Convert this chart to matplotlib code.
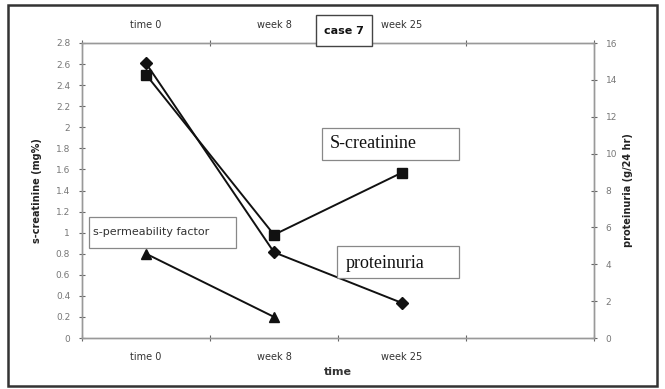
import matplotlib
matplotlib.use("Agg")
import matplotlib.pyplot as plt
from matplotlib.patches import Rectangle

categories = ["time 0", "week 8", "week 25"]
s_creatinine = [2.5, 0.98, 1.57]          # mg%, left axis
proteinuria = [14.9, 4.65, 1.9]           # g/24 hr, right axis
permeability = [0.8, 0.2]                 # left axis
left_ticks = [0, 0.2, 0.4, 0.6, 0.8, 1, 1.2, 1.4, 1.6, 1.8, 2, 2.2, 2.4, 2.6, 2.8]
right_ticks = [0, 2, 4, 6, 8, 10, 12, 14, 16]

fig = plt.figure(figsize=(6.65, 3.89), dpi=100)
W, H = 665, 389
ax = fig.add_axes([82 / W, 1 - 338 / H, (594 - 82) / W, (338 - 43) / H])
ax2 = ax.twinx()

xpos = [i + 0.5 for i in range(len(categories))]
lc = "#111111"
ax.plot(xpos, s_creatinine, color=lc, lw=1.4, marker="s", ms=7.5, mfc=lc, mec=lc, zorder=3)
ax.plot(xpos[:len(permeability)], permeability, color=lc, lw=1.4, marker="^", ms=7.5,
        mfc=lc, mec=lc, zorder=3)
ax2.plot(xpos, proteinuria, color=lc, lw=1.4, marker="D", ms=6.5, mfc=lc, mec=lc, zorder=3)

ax.set_xlim(0, 4)
ax.set_ylim(0, 2.8)
ax2.set_ylim(0, 16)

gray = "#777777"
for a in (ax, ax2):
    for s in a.spines.values():
        s.set_color("#999999")
        s.set_linewidth(1.0)

ax.set_yticks(left_ticks)
ax.set_yticklabels([("%g" % v) for v in left_ticks], fontsize=6.5, color=gray)
ax2.set_yticks(right_ticks)
ax2.set_yticklabels([str(v) for v in right_ticks], fontsize=6.5, color=gray)
ax.tick_params(axis="y", direction="inout", length=5, width=0.8, color="#666666", pad=6)
ax2.tick_params(axis="y", direction="inout", length=5, width=0.8, color="#666666", pad=6)

ax.set_xticks([0, 1, 2, 3, 4])
ax.set_xticklabels([])
ax.set_xticks(xpos, minor=True)
ax.set_xticklabels(categories, minor=True, fontsize=7, color="#333333")
ax.tick_params(axis="x", which="major", direction="inout", length=5, width=0.8, color="#666666",
               top=True)
ax.tick_params(axis="x", which="minor", length=0, pad=10)

# top secondary labels
for x, lab in zip(xpos, categories):
    ax.text(x, 1.0 + 18 / 295, lab, transform=ax.get_xaxis_transform(), ha="center",
            va="center", fontsize=7, color="#333333")

ax.set_xlabel("time", fontsize=8, fontweight="bold", color="#333333", labelpad=4)
ax.set_ylabel("s-creatinine (mg%)", fontsize=7, fontweight="bold", color="#222222", labelpad=10)
ax2.set_ylabel("proteinuria (g/24 hr)", fontsize=7, fontweight="bold", color="#222222",
               rotation=90, labelpad=4)


def fbox(x0, y0, x1, y1, ec, lw):
    fig.add_artist(Rectangle((x0 / W, 1 - y1 / H), (x1 - x0) / W, (y1 - y0) / H,
                             transform=fig.transFigure, fc="white", ec=ec, lw=lw, zorder=5))


# case 7 box
fbox(316, 15, 372, 46, "#444444", 1.0)
fig.text(344 / W, 1 - 31 / H, "case 7", ha="center", va="center", fontsize=8,
         fontweight="bold", color="#111111", zorder=6)

# annotation boxes
fbox(322, 128, 459, 160, "#888888", 0.9)
fig.text(330 / W, 1 - 144 / H, "S-creatinine", ha="left", va="center", fontsize=13,
         family="Liberation Serif", color="#111111", zorder=6)
fbox(337, 246, 459, 278, "#888888", 0.9)
fig.text(346 / W, 1 - 263 / H, "proteinuria", ha="left", va="center", fontsize=13,
         family="Liberation Serif", color="#111111", zorder=6)
fbox(89, 217, 236, 248, "#888888", 0.9)
fig.text(93 / W, 1 - 232 / H, "s-permeability factor", ha="left", va="center", fontsize=8,
         color="#333333", zorder=6)

# outer frame
fig.add_artist(Rectangle((8 / W, 1 - 386 / H), (657 - 8) / W, (386 - 5) / H,
                         transform=fig.transFigure, fill=False, ec="#333333", lw=1.8))

fig.savefig("out.png", dpi=100)
